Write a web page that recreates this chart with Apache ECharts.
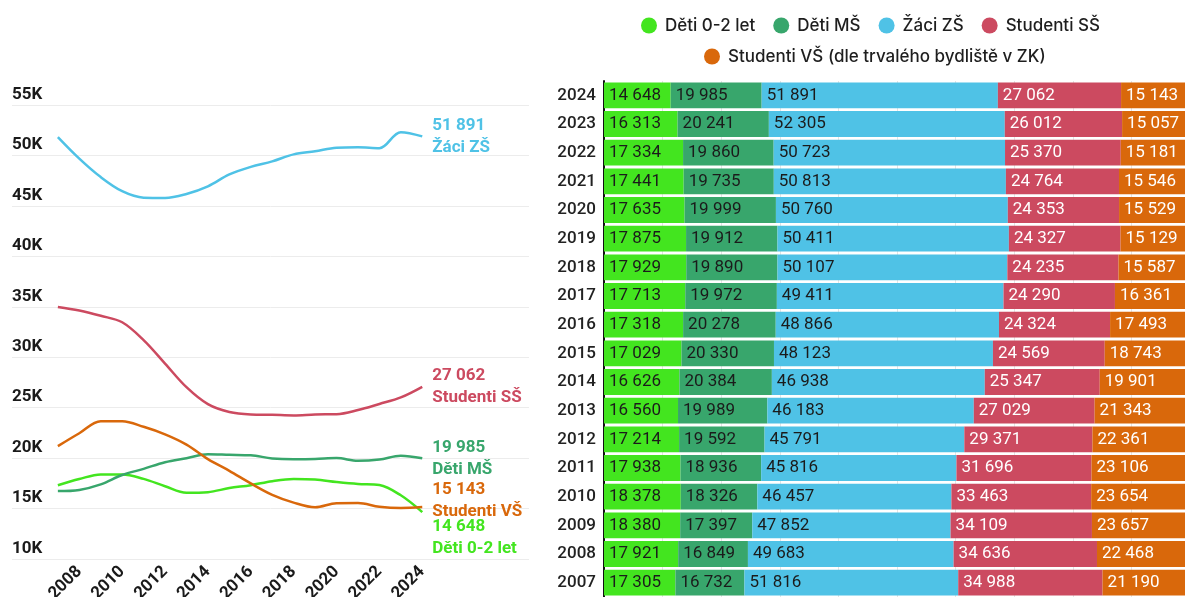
<!DOCTYPE html>
<html>
<head>
<meta charset="utf-8">
<script src="https://cdn.jsdelivr.net/npm/echarts@6/dist/echarts.min.js"></script>
<style>
html,body{margin:0;padding:0;background:#fff;}
#main{width:1185px;height:597px;}
</style>
</head>
<body>
<div id="main"></div>
<script>
const years = [2007,2008,2009,2010,2011,2012,2013,2014,2015,2016,2017,2018,2019,2020,2021,2022,2023,2024];
const deti02 = [17305,17921,18380,18378,17938,17214,16560,16626,17029,17318,17713,17929,17875,17635,17441,17334,16313,14648];
const detiMS = [16732,16849,17397,18326,18936,19592,19989,20384,20330,20278,19972,19890,19912,19999,19735,19860,20241,19985];
const zaciZS = [51816,49683,47852,46457,45816,45791,46183,46938,48123,48866,49411,50107,50411,50760,50813,50723,52305,51891];
const studSS = [34988,34636,34109,33463,31696,29371,27029,25347,24569,24324,24290,24235,24327,24353,24764,25370,26012,27062];
const studVS = [21190,22468,23657,23654,23106,22361,21343,19901,18743,17493,16361,15587,15129,15529,15546,15181,15057,15143];
const seriesNames = ['Děti 0-2 let','Děti MŠ','Žáci ZŠ','Studenti SŠ','Studenti VŠ (dle trvalého bydliště v ZK)'];
const shortNames = ['Děti 0-2 let','Děti MŠ','Žáci ZŠ','Studenti SŠ','Studenti VŠ'];
const yTicks = [10000,15000,20000,25000,30000,35000,40000,45000,50000,55000];
const xTickYears = [2008,2010,2012,2014,2016,2018,2020,2022,2024];

const colors = ['#43e51f','#38a66c','#4fc2e6','#cc4a60','#d9680b'];
const labelColors = ['#1b1b1b','#1b1b1b','#1b1b1b','#ffffff','#ffffff'];
const endOffsets = [[2,26],[2,0],[2,0],[2,0],[2,-6]];
const allData = [deti02, detiMS, zaciZS, studSS, studVS];
const totals = years.map((y,i)=>allData.reduce((s,a)=>s+a[i],0));
const fmt = v => String(v).replace(/\B(?=(\d{3})+(?!\d))/g,' ');

const chart = echarts.init(document.getElementById('main'), null, {renderer:'canvas'});

const lineSeries = allData.map((arr,k)=>({
  name: seriesNames[k],
  type: 'line',
  xAxisIndex: 0, yAxisIndex: 0,
  data: years.map((y,i)=>[y, arr[i]]),
  smooth: 0.35,
  symbol: 'none',
  lineStyle: {color: colors[k], width: 2.5},
  itemStyle: {color: colors[k]},
  endLabel: {
    show: true,
    formatter: p => fmt(p.value[1]) + '\n' + shortNames[k],
    color: colors[k],
    fontFamily: 'Roboto',
    fontWeight: 'bold',
    fontSize: 17,
    lineHeight: 22,
    offset: endOffsets[k]
  },
  z: 3
}));

const barSeries = allData.map((arr,k)=>({
  name: seriesNames[k],
  type: 'bar',
  xAxisIndex: 1, yAxisIndex: 1,
  stack: 'total',
  barCategoryGap: '10%',
  data: arr.map((v,i)=>v/totals[i]),
  itemStyle: {color: colors[k]},
  label: {
    show: true,
    position: 'insideLeft',
    distance: 5,
    formatter: p => fmt(arr[p.dataIndex]),
    color: labelColors[k],
    fontFamily: 'Roboto',
    fontSize: 17
  }
}));

const legendCommon = {
  icon: 'circle',
  itemWidth: 22,
  itemHeight: 16,
  itemGap: 18,
  textStyle: {fontFamily: 'Inter', fontSize: 17, fontWeight: 500, color: '#1e1e1e'}
};

chart.setOption({
  backgroundColor: '#ffffff',
  animation: false,
  color: colors,
  legend: [
    Object.assign({}, legendCommon, {left: 636, top: 12, data: seriesNames.slice(0,4)}),
    Object.assign({}, legendCommon, {left: 699, top: 43, data: seriesNames.slice(4)})
  ],
  grid: [
    {left: 12, right: 656, top: 105, bottom: 38, outerBoundsMode: 'none', containLabel: false},
    {left: 604, width: 586, top: 81, bottom: 0, outerBoundsMode: 'none', containLabel: false}
  ],
  xAxis: [
    {
      type: 'value', gridIndex: 0,
      min: 2004.86, max: 2028.98,
      axisLine: {show: false}, axisTick: {show: false}, splitLine: {show: false},
      axisLabel: {
        customValues: xTickYears,
        rotate: 45,
        margin: 10,
        fontFamily: 'Roboto', fontWeight: 'bold', fontSize: 17, color: '#1a1a1a',
        formatter: v => String(v)
      }
    },
    {
      type: 'value', gridIndex: 1,
      min: 0, max: 1, interval: 0.1,
      axisLine: {show: false}, axisTick: {show: false},
      axisLabel: {show: false},
      splitLine: {show: true, lineStyle: {color: '#e4e4e4', width: 1}}
    }
  ],
  yAxis: [
    {
      type: 'value', gridIndex: 0,
      min: 10000, max: 55000, interval: 5000,
      axisLine: {show: false}, axisTick: {show: false},
      splitLine: {show: true, lineStyle: {color: '#ececec', width: 1}},
      axisLabel: {
        inside: true, align: 'left', verticalAlign: 'bottom', margin: 0,
        padding: [0,0,2,0],
        fontFamily: 'Roboto', fontWeight: 'bold', fontSize: 17, color: '#1a1a1a',
        formatter: v => (yTicks.indexOf(v) >= 0 ? (v/1000) + 'K' : '')
      }
    },
    {
      type: 'category', gridIndex: 1,
      data: years.map(String),
      axisLine: {show: true, lineStyle: {color: '#111', width: 2}},
      axisTick: {show: false},
      axisLabel: {margin: 8, fontFamily: 'Roboto', fontWeight: 500, fontSize: 17, color: '#222'}
    }
  ],
  series: lineSeries.concat(barSeries)
});
</script>
</body>
</html>
